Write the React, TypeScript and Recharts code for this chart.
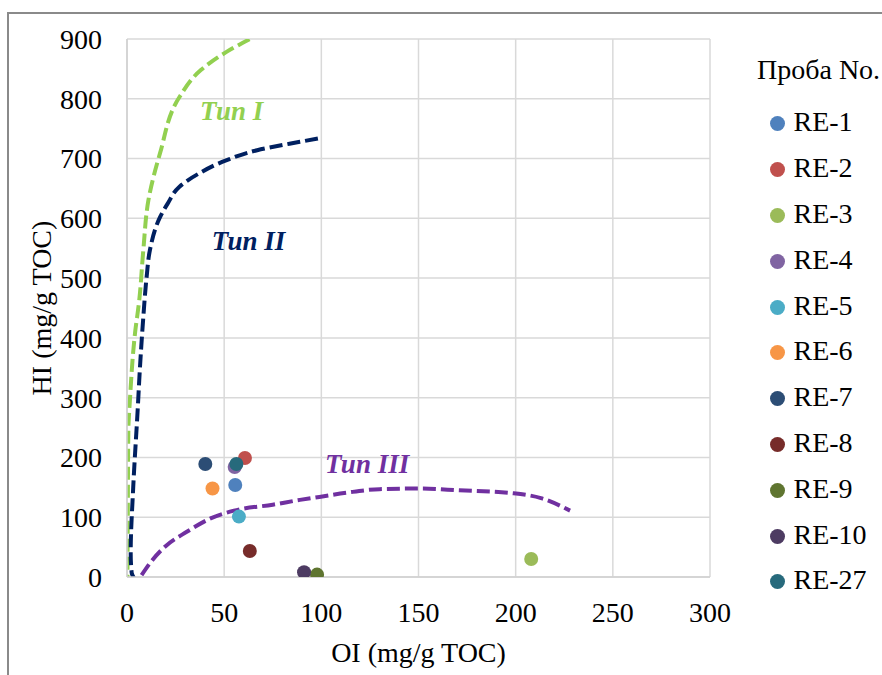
import {
  ComposedChart,
  Line,
  Scatter,
  XAxis,
  YAxis,
  CartesianGrid,
  Legend,
  Label,
  ReferenceDot,
} from 'recharts';

// samples (OI / HI, mg/g TOC)
const sampleNames = ['RE-1', 'RE-2', 'RE-3', 'RE-4', 'RE-5', 'RE-6', 'RE-7', 'RE-8', 'RE-9', 'RE-10', 'RE-27'];
const sampleColors = ['#4F81BD', '#C0504D', '#9BBB59', '#8064A2', '#4BACC6', '#F79646', '#2C4D75', '#772C2A', '#5F7530', '#4D3B62', '#276A7C'];
const sampleOI = [55.7, 60.7, 208, 55.4, 57.6, 44, 40.3, 63.2, 97.8, 91.1, 56.3];
const sampleHI = [154, 199, 30, 184, 101, 148, 189, 43.5, 4, 8, 189];

// kerogen type boundaries
const typeIOI = [0.2, 0.4, 0.7, 1.5, 4.1, 6.3, 8.4, 11, 17, 27, 38, 51, 67];
const typeIHI = [-18, 100, 246, 296, 407, 463, 547, 630, 709, 803, 848, 878, 906];
const typeIIOI = [5, 2.4, 1.9, 3.2, 5.5, 6.7, 8.4, 10.1, 11.8, 17, 21, 27, 37, 51, 67, 89, 99];
const typeIIHI = [-8, 7, 40, 150, 280, 352, 435, 502, 547, 602, 625, 653, 675, 697, 714, 728, 734];
const typeIIIOI = [7.5, 12, 20, 31, 43, 55, 75, 89, 99, 113, 130, 151, 171, 199, 213, 228];
const typeIIIHI = [3, 24, 52, 76, 98, 111, 121, 129, 134, 141, 147, 148, 145, 140, 132, 111];

const xTicks = [0, 50, 100, 150, 200, 250, 300];
const yTicks = [0, 100, 200, 300, 400, 500, 600, 700, 800, 900];

const curveLabels = [
  { text: 'Тип I', x: 37.6, y: 764, color: '#92D050' },
  { text: 'Тип II', x: 43.6, y: 547, color: '#002060' },
  { text: 'Тип III', x: 101.9, y: 174.4, color: '#7030A0' },
];

const serif = "'Liberation Serif', 'Times New Roman', serif";
const textStyle = { fontFamily: serif };

const toPoints = (xs: number[], ys: number[]) => xs.map((x, i) => ({ x, y: ys[i] }));

const curves = [
  { name: 'Тип I', data: toPoints(typeIOI, typeIHI), color: '#92D050', type: 'monotoneY' },
  { name: 'Тип II', data: toPoints(typeIIOI, typeIIHI), color: '#002060', type: 'monotoneY' },
  { name: 'Тип III', data: toPoints(typeIIIOI, typeIIIHI), color: '#7030A0', type: 'monotoneX' },
];

const renderLegend = () => (
  <div style={{ position: 'relative', width: 133, height: 560, fontFamily: serif, fontSize: 28, color: '#000' }}>
    <div style={{ position: 'absolute', left: 8, top: 5.6, lineHeight: '28px', whiteSpace: 'nowrap' }}>Проба No.</div>
    {sampleNames.map((name, i) => (
      <div
        key={name}
        style={{ position: 'absolute', left: 0, top: 58.3 + 45.8 * i, height: 28, lineHeight: '28px', whiteSpace: 'nowrap' }}
      >
        <span
          style={{
            position: 'absolute',
            left: 20.5,
            top: 8.2,
            width: 15,
            height: 15,
            borderRadius: '50%',
            background: sampleColors[i],
          }}
        />
        <span style={{ position: 'absolute', left: 44.5, top: 0 }}>{name}</span>
      </div>
    ))}
  </div>
);

export default function App() {
  return (
    <div
      style={{
        position: 'absolute',
        left: 0,
        top: 0,
        width: 882,
        height: 675,
        background: '#fff',
        fontFamily: serif,
      }}
    >
      <ComposedChart
        width={882}
        height={675}
        margin={{ top: 39, right: 172, bottom: 0, left: 0 }}
        style={textStyle}
      >
        <CartesianGrid stroke="#D9D9D9" strokeWidth={1.5} />
        <XAxis
          type="number"
          dataKey="x"
          domain={[0, 300]}
          ticks={xTicks}
          interval={0}
          allowDataOverflow
          height={98}
          tickLine={false}
          tickSize={0}
          tickMargin={25}
          axisLine={{ stroke: '#D0D0D0', strokeWidth: 1.5 }}
          tick={{ fill: '#000', fontSize: 28, style: textStyle }}
        >
          <Label
            content={({ viewBox }: any) => (
              <text
                x={viewBox.x + viewBox.width / 2}
                y={662}
                textAnchor="middle"
                fontSize={28}
                style={textStyle}
                fill="#000"
              >
                OI (mg/g TOC)
              </text>
            )}
          />
        </XAxis>
        <YAxis
          type="number"
          dataKey="y"
          domain={[0, 900]}
          ticks={yTicks}
          interval={0}
          allowDataOverflow
          width={127}
          tickLine={false}
          tickSize={0}
          tickMargin={25}
          axisLine={{ stroke: '#D0D0D0', strokeWidth: 1.5 }}
          tick={{ fill: '#000', fontSize: 28, style: textStyle }}
        >
          <Label
            content={({ viewBox }: any) => {
              const cx = 51;
              const cy = viewBox.y + viewBox.height / 2;
              return (
                <text
                  x={cx}
                  y={cy}
                  transform={`rotate(-90, ${cx}, ${cy})`}
                  textAnchor="middle"
                  fontSize={28}
                  style={textStyle}
                  fill="#000"
                >
                  HI (mg/g TOC)
                </text>
              );
            }}
          />
        </YAxis>
        {sampleNames.map((name, i) => (
          <Scatter
            key={name}
            name={name}
            data={[{ x: sampleOI[i], y: sampleHI[i] }]}
            fill={sampleColors[i]}
            isAnimationActive={false}
            legendType="none"
            shape={(p: any) => <circle cx={p.cx} cy={p.cy} r={7} fill={sampleColors[i]} />}
          />
        ))}
        {curves.map((c) => (
          <Line
            key={c.name}
            name={c.name}
            data={c.data}
            dataKey="y"
            type={c.type as any}
            stroke={c.color}
            strokeWidth={4}
            strokeDasharray="13 5"
            dot={false}
            activeDot={false}
            legendType="none"
            isAnimationActive={false}
          />
        ))}
        {curveLabels.map((l) => (
          <ReferenceDot
            key={l.text}
            x={l.x}
            y={l.y}
            r={0}
            shape={(p: any) => (
              <text
                x={p.cx}
                y={p.cy}
                fill={l.color}
                fontSize={27}
                style={{ ...textStyle, fontWeight: 'bold', fontStyle: 'italic' }}
              >
                {l.text}
              </text>
            )}
          />
        ))}
        <Legend
          layout="horizontal"
          verticalAlign="middle"
          align="center"
          content={renderLegend}
          wrapperStyle={{ left: 749, top: 50, width: 133, height: 560, right: 'auto', bottom: 'auto' }}
        />
      </ComposedChart>
      <div
        style={{
          position: 'absolute',
          left: 7,
          top: 12,
          width: 875,
          height: 663,
          borderTop: '2px solid #8A8A8A',
          borderLeft: '2px solid #8A8A8A',
          boxSizing: 'border-box',
          pointerEvents: 'none',
        }}
      />
    </div>
  );
}
